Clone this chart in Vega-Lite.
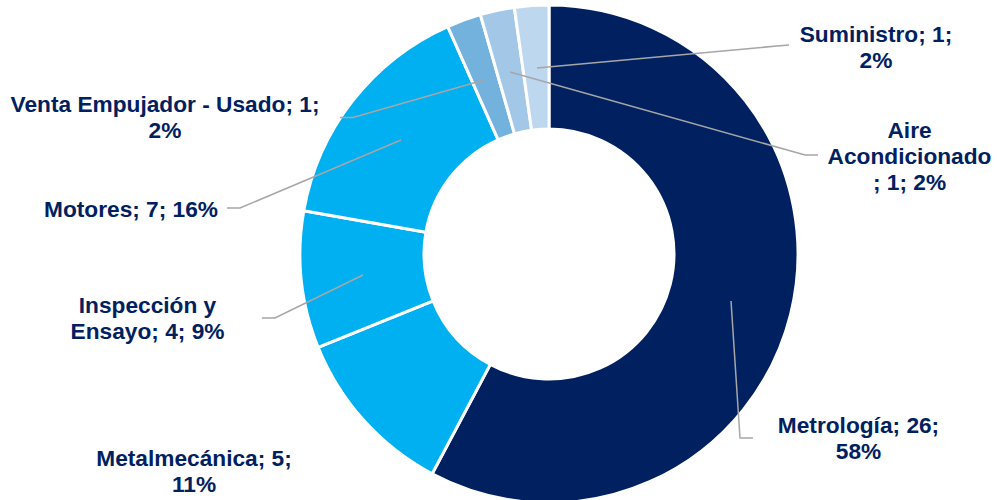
{
  "$schema": "https://vega.github.io/schema/vega-lite/v6.json",
  "description": "Servicios por área: anillo con rótulos y líneas guía",
  "width": 896,
  "height": 492,
  "autosize": "none",
  "padding": {"left": 101, "top": 8, "right": 0, "bottom": 0},
  "background": "white",
  "config": {"view": {"stroke": null}},
  "datasets": {
    "servicios": [
      {"categoria": "Metrología", "servicios": 26},
      {"categoria": "Metalmecánica", "servicios": 5},
      {"categoria": "Inspección y Ensayo", "servicios": 4},
      {"categoria": "Motores", "servicios": 7},
      {"categoria": "Venta Empujador - Usado", "servicios": 1},
      {"categoria": "Aire Acondicionado", "servicios": 1},
      {"categoria": "Suministro", "servicios": 1}
    ],
    "rotulos": [
      {"categoria": "Metrología", "plantilla": "Metrología; {v};|{p}%", "lx": 1.2505, "ly": -0.7244},
      {"categoria": "Metalmecánica", "plantilla": "Metalmecánica; {v};|{p}%", "lx": -1.4343, "ly": -0.8566},
      {"categoria": "Inspección y Ensayo", "plantilla": "Inspección y|Ensayo; {v}; {p}%", "lx": -1.6222, "ly": -0.2396},
      {"categoria": "Motores", "plantilla": "Motores; {v}; {p}%", "lx": -1.6889, "ly": 0.1495},
      {"categoria": "Venta Empujador - Usado", "plantilla": "Venta Empujador - Usado; {v};|{p}%", "lx": -1.5515, "ly": 0.5725},
      {"categoria": "Aire Acondicionado", "plantilla": "Aire|Acondicionado|; {v}; {p}%", "lx": 1.4566, "ly": 0.4675},
      {"categoria": "Suministro", "plantilla": "Suministro; {v};|{p}%", "lx": 1.3212, "ly": 0.8578}
    ],
    "guias": [
      {"categoria": "Suministro", "paso": 1, "gx": -0.0485, "gy": 0.7515},
      {"categoria": "Suministro", "paso": 2, "gx": 0.9212, "gy": 0.8404},
      {"categoria": "Suministro", "paso": 3, "gx": 0.9697, "gy": 0.8444},
      {"categoria": "Aire Acondicionado", "paso": 1, "gx": -0.1576, "gy": 0.7354},
      {"categoria": "Aire Acondicionado", "paso": 2, "gx": 1.0343, "gy": 0.4},
      {"categoria": "Aire Acondicionado", "paso": 3, "gx": 1.0869, "gy": 0.4},
      {"categoria": "Venta Empujador - Usado", "paso": 1, "gx": -0.2626, "gy": 0.703},
      {"categoria": "Venta Empujador - Usado", "paso": 2, "gx": -0.7919, "gy": 0.5515},
      {"categoria": "Venta Empujador - Usado", "paso": 3, "gx": -0.8444, "gy": 0.5515},
      {"categoria": "Motores", "paso": 1, "gx": -0.598, "gy": 0.4606},
      {"categoria": "Motores", "paso": 2, "gx": -1.2485, "gy": 0.1859},
      {"categoria": "Motores", "paso": 3, "gx": -1.301, "gy": 0.1859},
      {"categoria": "Inspección y Ensayo", "paso": 1, "gx": -0.7515, "gy": -0.0848},
      {"categoria": "Inspección y Ensayo", "paso": 2, "gx": -1.1071, "gy": -0.2586},
      {"categoria": "Inspección y Ensayo", "paso": 3, "gx": -1.1596, "gy": -0.2586},
      {"categoria": "Metrología", "paso": 1, "gx": 0.7354, "gy": -0.1899},
      {"categoria": "Metrología", "paso": 2, "gx": 0.7717, "gy": -0.7434},
      {"categoria": "Metrología", "paso": 3, "gx": 0.8242, "gy": -0.7434}
    ]
  },
  "layer": [
    {
      "data": {"name": "servicios"},
      "transform": [{"window": [{"op": "row_number", "as": "orden"}]}],
      "mark": {"type": "arc", "innerRadius": 125, "outerRadius": 249, "stroke": "white", "strokeWidth": 3},
      "encoding": {
        "theta": {"field": "servicios", "type": "quantitative", "stack": true},
        "order": {"field": "orden", "type": "quantitative"},
        "color": {
          "field": "categoria",
          "type": "nominal",
          "scale": {
            "domain": ["Metrología", "Metalmecánica", "Inspección y Ensayo", "Motores", "Venta Empujador - Usado", "Aire Acondicionado", "Suministro"],
            "range": ["#002060", "#00B0F0", "#00B0F0", "#00B0F0", "#74B2DE", "#A2C7E7", "#BDD7EE"]
          },
          "legend": null
        }
      }
    },
    {
      "data": {"name": "guias"},
      "mark": {"type": "line", "color": "#A6A6A6", "strokeWidth": 1.5},
      "encoding": {
        "x": {"field": "gx", "type": "quantitative", "scale": {"domain": [-1.8101, 1.8101], "nice": false, "zero": false}, "axis": null},
        "y": {"field": "gy", "type": "quantitative", "scale": {"domain": [-0.99394, 0.99394], "nice": false, "zero": false}, "axis": null},
        "detail": {"field": "categoria", "type": "nominal"},
        "order": {"field": "paso", "type": "quantitative"}
      }
    },
    {
      "data": {"name": "servicios"},
      "transform": [
        {"joinaggregate": [{"op": "sum", "field": "servicios", "as": "total"}]},
        {"calculate": "round(100 * datum.servicios / datum.total)", "as": "pct"},
        {"lookup": "categoria", "from": {"data": {"name": "rotulos"}, "key": "categoria", "fields": ["plantilla", "lx", "ly"]}},
        {"calculate": "split(replace(replace(datum.plantilla, '{v}', '' + datum.servicios), '{p}', '' + datum.pct), '|')", "as": "texto"}
      ],
      "mark": {"type": "text", "font": "Liberation Sans", "fontWeight": "bold", "fontSize": 22.7, "lineHeight": 26, "color": "#002060", "align": "center", "baseline": "alphabetic"},
      "encoding": {
        "x": {"field": "lx", "type": "quantitative", "scale": {"domain": [-1.8101, 1.8101], "nice": false, "zero": false}, "axis": null},
        "y": {"field": "ly", "type": "quantitative", "scale": {"domain": [-0.99394, 0.99394], "nice": false, "zero": false}, "axis": null},
        "text": {"field": "texto", "type": "nominal"}
      }
    }
  ]
}
